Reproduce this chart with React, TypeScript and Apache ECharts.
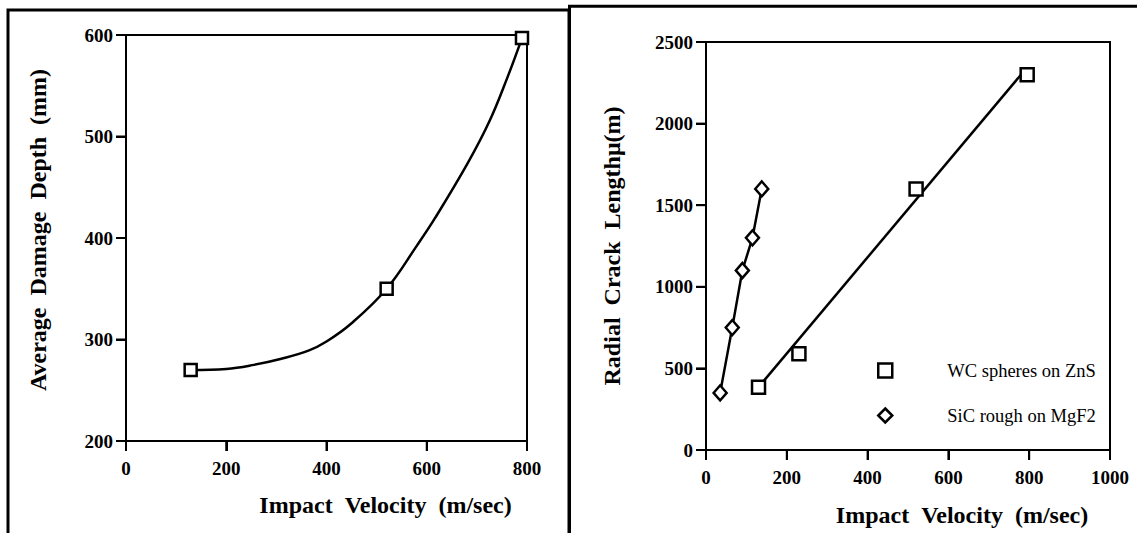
import React, { useEffect, useRef } from "react";
import * as echarts from "echarts";

// Left chart: Average Damage Depth vs Impact Velocity
const leftXTicks = [0, 200, 400, 600, 800];
const leftYTicks = [200, 300, 400, 500, 600];
const leftMarkerX = [129, 520, 790];
const leftMarkerY = [270, 350, 597];
// fitted curve, points
const leftCurveX = [129, 200, 255, 310, 364, 400, 450, 520, 581, 617, 682, 725, 760, 790];
const leftCurveY = [270, 271, 275, 281, 289, 298, 316, 350, 393, 420, 474, 515, 557, 597];

// Right chart: Radial Crack Length vs Impact Velocity
const rightXTicks = [0, 200, 400, 600, 800, 1000];
const rightYTicks = [0, 500, 1000, 1500, 2000, 2500];
const wcX = [130, 230, 520, 795];
const wcY = [385, 590, 1600, 2300];
const wcFitX = [135, 790];
const wcFitY = [400, 2330];
const sicX = [35, 65, 90, 115, 138];
const sicY = [350, 750, 1100, 1300, 1600];

const seriesNames = ["WC spheres on ZnS", "SiC rough on MgF2"];

const FONT = "'Liberation Serif', 'Times New Roman', serif";
const NB = "\u00a0\u00a0";

const zip = (xs: number[], ys: number[]) => xs.map((x, i) => [x, ys[i]]);

export default function App() {
  const ref = useRef<HTMLDivElement>(null);
  useEffect(() => {
    if (!ref.current) return;
    const chart = echarts.init(ref.current, undefined, { renderer: "svg" });
    const axisLabel = () => ({
      show: true,
      color: "#000",
      fontFamily: FONT,
      fontWeight: "bold" as const,
      fontSize: 19,
      formatter: (v: number) => String(v),
    });
    const nameStyle = () => ({
      color: "#000",
      fontFamily: FONT,
      fontWeight: "bold" as const,
      fontSize: 24,
    });
    const axisLine = () => ({ show: true, onZero: false, lineStyle: { color: "#000", width: 2 } });
    const axisTick = () => ({ show: true, inside: false, length: 10, lineStyle: { color: "#000", width: 2 } });
    const hollow = { color: "#fff", borderColor: "#000", borderWidth: 2.5, opacity: 1 };

    chart.setOption({
      animation: false,
      backgroundColor: "#fff",
      grid: [
        { left: 126, top: 35, width: 401, height: 406, show: true, borderColor: "#000", borderWidth: 2, backgroundColor: "transparent" },
        { left: 706, top: 42, width: 404, height: 408, show: true, borderColor: "#000", borderWidth: 2, backgroundColor: "transparent" },
      ],
      xAxis: [
        {
          type: "value", gridIndex: 0, position: "bottom",
          min: leftXTicks[0], max: leftXTicks[leftXTicks.length - 1], interval: 200,
          axisLine: axisLine(), axisTick: axisTick(), splitLine: { show: false },
          axisLabel: { ...axisLabel(), margin: 18 },
          name: "Impact" + NB + "Velocity" + NB + "(m/sec)",
          nameLocation: "middle", nameGap: 52,
          nameTextStyle: { ...nameStyle(), padding: [0, 0, 0, 118] },
        },
        {
          type: "value", gridIndex: 1, position: "bottom",
          min: rightXTicks[0], max: rightXTicks[rightXTicks.length - 1], interval: 200,
          axisLine: axisLine(), axisTick: axisTick(), splitLine: { show: false },
          axisLabel: { ...axisLabel(), margin: 18 },
          name: "Impact" + NB + "Velocity" + NB + "(m/sec)",
          nameLocation: "middle", nameGap: 53,
          nameTextStyle: { ...nameStyle(), padding: [0, 0, 0, 108] },
        },
      ],
      yAxis: [
        {
          type: "value", gridIndex: 0, position: "left",
          min: leftYTicks[0], max: leftYTicks[leftYTicks.length - 1], interval: 100,
          axisLine: axisLine(), axisTick: axisTick(), splitLine: { show: false },
          axisLabel: { ...axisLabel(), margin: 13 },
          name: "Average" + NB + "Damage" + NB + "Depth" + NB + "(mm)",
          nameLocation: "middle", nameGap: 76,
          nameTextStyle: { ...nameStyle(), padding: [0, 0, 0, 16] },
        },
        {
          type: "value", gridIndex: 1, position: "left",
          min: rightYTicks[0], max: rightYTicks[rightYTicks.length - 1], interval: 500,
          axisLine: axisLine(), axisTick: axisTick(), splitLine: { show: false },
          axisLabel: { ...axisLabel(), margin: 13 },
          name: "Radial" + NB + "Crack" + NB + "Lengthμ(m)",
          nameLocation: "middle", nameGap: 82,
          nameTextStyle: { ...nameStyle() },
        },
      ],
      legend: {
        orient: "vertical",
        left: 877,
        top: 361,
        padding: 0,
        itemWidth: 14,
        itemHeight: 14,
        itemGap: 26,
        selectedMode: false,
        textStyle: { color: "#000", fontFamily: FONT, fontSize: 18.5, padding: [0, 0, 0, 50] },
        data: [
          { name: seriesNames[0], icon: "rect", itemStyle: hollow },
          { name: seriesNames[1], icon: "diamond", itemStyle: hollow },
        ],
      },
      series: [
        {
          type: "line", xAxisIndex: 0, yAxisIndex: 0, name: "curve",
          data: zip(leftCurveX, leftCurveY), smooth: 0.4, showSymbol: false,
          lineStyle: { color: "#000", width: 2.5 }, z: 2,
        },
        {
          type: "scatter", xAxisIndex: 0, yAxisIndex: 0, name: "depth",
          data: zip(leftMarkerX, leftMarkerY), symbol: "rect", symbolSize: 12,
          itemStyle: hollow, z: 3,
        },
        {
          type: "line", xAxisIndex: 1, yAxisIndex: 1, name: "wcfit",
          data: zip(wcFitX, wcFitY), showSymbol: false,
          lineStyle: { color: "#000", width: 2.5 }, z: 2,
        },
        {
          type: "scatter", xAxisIndex: 1, yAxisIndex: 1, name: seriesNames[0],
          data: zip(wcX, wcY), symbol: "rect", symbolSize: 13,
          itemStyle: hollow, z: 3,
        },
        {
          type: "line", xAxisIndex: 1, yAxisIndex: 1, name: "sicline",
          data: zip(sicX, sicY), showSymbol: false,
          lineStyle: { color: "#000", width: 2.5 }, z: 2,
        },
        {
          type: "scatter", xAxisIndex: 1, yAxisIndex: 1, name: seriesNames[1],
          data: zip(sicX, sicY), symbol: "diamond", symbolSize: [13, 15],
          itemStyle: hollow, z: 3,
        },
      ],
    });

    // tick marks placed through the axes' own scales
    const tickLines: any[] = [];
    const addTicks = (gridIndex: number, xs: number[], ys: number[]) => {
      xs.forEach((v) => {
        const p = chart.convertToPixel({ gridIndex }, [v, ys[0]]) as number[];
        tickLines.push({
          type: "line", silent: true, z: 100,
          shape: { x1: p[0], y1: p[1], x2: p[0], y2: p[1] + 10 },
          style: { stroke: "#000", lineWidth: 2 },
        });
      });
      ys.forEach((v) => {
        const p = chart.convertToPixel({ gridIndex }, [xs[0], v]) as number[];
        tickLines.push({
          type: "line", silent: true, z: 100,
          shape: { x1: p[0], y1: p[1], x2: p[0] - 10, y2: p[1] },
          style: { stroke: "#000", lineWidth: 2 },
        });
      });
    };
    addTicks(0, leftXTicks, leftYTicks);
    addTicks(1, rightXTicks, rightYTicks);

    chart.setOption({
      graphic: [
        {
          type: "rect", silent: true,
          shape: { x: 8, y: 10, width: 561, height: 600 },
          style: { fill: "none", stroke: "#000", lineWidth: 3 },
        },
        {
          type: "rect", silent: true,
          shape: { x: 569.5, y: 6.3, width: 700, height: 600 },
          style: { fill: "none", stroke: "#000", lineWidth: 3 },
        },
        ...tickLines,
      ],
    });
    return () => chart.dispose();
  }, []);
  return (
    <div
      ref={ref}
      style={{ position: "absolute", left: 0, top: 0, width: 1137, height: 533 }}
    />
  );
}
